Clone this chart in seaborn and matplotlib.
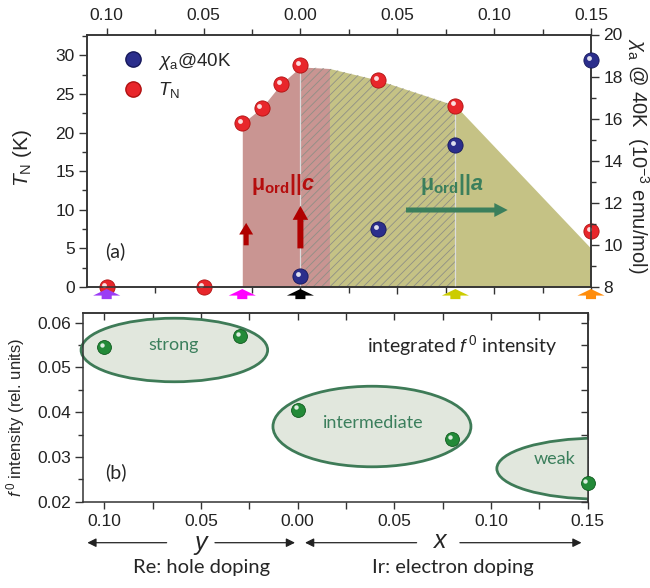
import numpy as np
import pandas as pd
import matplotlib
matplotlib.use("Agg")
import matplotlib.pyplot as plt
import matplotlib.transforms as mtrans
from matplotlib.patches import Ellipse, FancyArrow
from matplotlib.lines import Line2D
from matplotlib.ticker import MultipleLocator, FuncFormatter
import seaborn as sns

# doping axis: negative side = Re content y (hole), positive side = Ir content x (electron)
tn_dop = [-0.10, -0.05, -0.03, -0.02, -0.01, 0.00, 0.04, 0.08, 0.15]
tn_val = [0.0, 0.0, 21.2, 23.2, 26.3, 28.7, 26.8, 23.5, 7.2]

chi_dop = [0.00, 0.04, 0.08, 0.15]
chi_val = [8.5, 10.75, 14.75, 18.8]

# outline of the ordered region (c-axis part, then a-axis part)
phase_c_dop = [-0.03, -0.02, -0.01, 0.00, 0.015]
phase_c_tn = [21.2, 23.2, 26.3, 28.5, 28.3]
phase_a_dop = [0.015, 0.04, 0.08, 0.15]
phase_a_tn = [28.3, 26.8, 23.5, 5.0]

# samples (coloured arrows under panel a)
sample_dop = [-0.10, -0.03, 0.00, 0.08, 0.15]
sample_col = ["#9b3cf5", "#ff00ff", "#000000", "#cccc00", "#ff8c0a"]

f0_dop = [-0.10, -0.03, 0.00, 0.08, 0.15]
f0_val = [0.0546, 0.0570, 0.0406, 0.0340, 0.0241]

sns.set_style("ticks")
plt.rcParams["font.family"] = ["Liberation Sans", "DejaVu Sans"]
plt.rcParams["mathtext.fontset"] = "custom"
plt.rcParams["mathtext.rm"] = "Liberation Sans"
plt.rcParams["mathtext.it"] = "Liberation Sans:italic"
plt.rcParams["mathtext.bf"] = "Liberation Sans:bold"
plt.rcParams["mathtext.bfit"] = "Liberation Sans:italic:bold"
plt.rcParams["hatch.linewidth"] = 0.6
plt.rcParams["axes.edgecolor"] = "#333333"
plt.rcParams["axes.linewidth"] = 1.1
plt.rcParams["xtick.color"] = "#333333"
plt.rcParams["ytick.color"] = "#333333"
plt.rcParams["xtick.labelcolor"] = "#222222"
plt.rcParams["ytick.labelcolor"] = "#222222"

calib = ["Lato", "DejaVu Sans"]
RED, BLUE, GREEN = "#e8262b", "#2b2e8c", "#238a38"
CRED, CGREEN = "#b50d0d", "#3b7f5c"

fig = plt.figure(figsize=(6.5, 5.88), dpi=100)
ax1 = fig.add_axes([87.3 / 650, 1 - 287 / 588, 503.7 / 650, 252.5 / 588])
ax2 = fig.add_axes([83.3 / 650, 1 - 501.7 / 588, 504.4 / 650, 188.4 / 588])

absfmt = FuncFormatter(lambda v, p: f"{abs(v):.2f}")


def spheres(ax, x, y, color, dark, s):
    sns.scatterplot(x=x, y=y, ax=ax, color=color, s=s, edgecolor=dark, linewidth=0.6,
                    clip_on=False, zorder=6, legend=False)
    tr = mtrans.offset_copy(ax.transData, fig=fig, x=-2.2, y=2.2, units="dots")
    ax.scatter(x, y, s=s * 0.1, color="white", alpha=0.85, lw=0, transform=tr,
               clip_on=False, zorder=7)


# ---------- (a) phase diagram ----------
ax1.set_xlim(-0.110, 0.15)
ax1.set_ylim(0, 32.7)
ax1.fill_between(phase_c_dop, 0, phase_c_tn, color="#c99592", lw=0, zorder=1)
ax1.fill_between(phase_a_dop, 0, phase_a_tn, color="#c5c285", lw=0, zorder=1)
h_dop = [0.0, 0.015, 0.04, 0.08]
h_tn = [28.5, 28.3, 26.8, 23.5]
ax1.fill_between(h_dop, 0, h_tn, facecolor="none", edgecolor="#8f8f86", hatch="////", lw=0, zorder=2)
ax1.plot([0, 0], [0, 28.5], color="#dcdcdc", lw=0.9, zorder=3)
ax1.plot([0.08, 0.08], [0, 23.5], color="#dcdcdc", lw=0.9, zorder=3)

spheres(ax1, tn_dop, tn_val, RED, "#b01010", 120)

# moment direction arrows
ax1.add_patch(FancyArrow(-0.028, 5.4, 0, 2.9, width=0.0026, head_width=0.0072, head_length=1.5,
                         length_includes_head=True, color="#b00000", lw=0, zorder=4))
ax1.add_patch(FancyArrow(0.0, 5.0, 0, 5.5, width=0.0031, head_width=0.0080, head_length=1.8,
                         length_includes_head=True, color="#b00000", lw=0, zorder=4))
ax1.add_patch(FancyArrow(0.0545, 9.97, 0.0525, 0, width=0.65, head_width=1.8, head_length=0.0069,
                         length_includes_head=True, color=CGREEN, lw=0, zorder=4))
ax1.text(-0.009, 13.3, r"$\mathbf{\mu_{ord}||}\mathbfit{c}$", color=CRED, fontsize=15.5,
         ha="center", va="center", zorder=5)
ax1.text(0.078, 13.3, r"$\mathbf{\mu_{ord}||}\mathbfit{a}$", color=CGREEN, fontsize=15.5,
         ha="center", va="center", zorder=5)
ax1.text(-0.0955, 4.6, "(a)", fontsize=14, family=calib, ha="center", va="center")

# measured samples
for d, c in zip(sample_dop, sample_col):
    ax1.add_patch(FancyArrow(d, -0.048, 0, 0.040, width=0.0052, head_width=0.0140, head_length=0.026,
                             length_includes_head=True, color=c, lw=0, clip_on=False,
                             transform=mtrans.blended_transform_factory(ax1.transData, ax1.transAxes),
                             zorder=8))

ax1.xaxis.set_major_locator(MultipleLocator(0.05))
ax1.xaxis.set_minor_locator(MultipleLocator(0.025))
ax1.xaxis.set_major_formatter(absfmt)
ax1.tick_params(axis="x", which="both", top=True, bottom=True, labeltop=True, labelbottom=False,
                direction="out", labelsize=12.5, length=5, width=1)
ax1.tick_params(axis="x", which="minor", length=4)
ax1.yaxis.set_major_locator(MultipleLocator(5))
ax1.yaxis.set_minor_locator(MultipleLocator(2.5))
ax1.tick_params(axis="y", which="major", direction="out", labelsize=12.5, length=5.5, width=1)
ax1.tick_params(axis="y", which="minor", direction="out", length=3.3, width=1)
ax1.set_ylabel(r"$T_{\mathrm{N}}$ (K)", fontsize=15)
ax1.yaxis.set_label_coords(-0.105, 0.51)

ax1r = ax1.twinx()
ax1r.set_ylim(8, 20)
spheres(ax1r, chi_dop, chi_val, BLUE, "#15175a", 120)
ax1r.yaxis.set_major_locator(MultipleLocator(2))
ax1r.yaxis.set_minor_locator(MultipleLocator(1))
ax1r.tick_params(axis="y", which="major", direction="out", labelsize=12.5, length=5.5, width=1)
ax1r.tick_params(axis="y", which="minor", direction="out", length=3.3, width=1)
ax1r.set_ylabel(r"$\chi_{\mathrm{a}}$ @ 40K  (10$^{-3}$ emu/mol)", fontsize=14.5,
                rotation=270, va="center")
ax1r.yaxis.set_label_coords(1.093, 0.52)

handles = [Line2D([], [], ls="", marker="o", ms=11, mfc=BLUE, mec="#15175a"),
           Line2D([], [], ls="", marker="o", ms=11, mfc=RED, mec="#b01010")]
ax1r.legend(handles, [r"$\chi_{\mathrm{a}}$@40K", r"$T_{\mathrm{N}}$"], loc="upper left",
            bbox_to_anchor=(0.073, 0.935), frameon=False, fontsize=13.5, borderpad=0,
            borderaxespad=0, handlelength=1.0, handletextpad=0.8, labelspacing=0.45)

# ---------- (b) f0 intensity ----------
ax2.set_xlim(-0.1109, 0.15)
ax2.set_ylim(0.02, 0.0621)
ell_kw = dict(facecolor="#e1e7dd", edgecolor="#3e7b57", lw=2, zorder=1)
ax2.add_patch(Ellipse((-0.0638, 0.0539), 0.0965, 0.0142, clip_on=False, **ell_kw))
ax2.add_patch(Ellipse((0.0384, 0.0368), 0.1024, 0.0180, **ell_kw))
ax2.add_patch(Ellipse((0.155, 0.0274), 0.104, 0.0136, **ell_kw))
ax2.text(-0.064, 0.0551, "strong", color=CGREEN, fontsize=13, family=calib, ha="center", va="center")
ax2.text(0.039, 0.0376, "intermediate", color=CGREEN, fontsize=13, family=calib, ha="center", va="center")
ax2.text(0.133, 0.0295, "weak", color=CGREEN, fontsize=13, family=calib, ha="center", va="center")
ax2.text(0.085, 0.0549, r"integrated $f^{\,0}$ intensity", fontsize=14, family=calib,
         ha="center", va="center")
ax2.text(-0.094, 0.0265, "(b)", fontsize=14, family=calib, ha="center", va="center")

spheres(ax2, f0_dop, f0_val, GREEN, "#0f5a1e", 100)

ax2.xaxis.set_major_locator(MultipleLocator(0.05))
ax2.xaxis.set_minor_locator(MultipleLocator(0.025))
ax2.xaxis.set_major_formatter(absfmt)
ax2.tick_params(axis="x", which="both", direction="out", labelsize=12.5, length=5, width=1)
ax2.yaxis.set_major_locator(MultipleLocator(0.01))
ax2.yaxis.set_minor_locator(MultipleLocator(0.005))
ax2.tick_params(axis="y", which="major", direction="out", labelsize=12.5, length=5.5, width=1)
ax2.tick_params(axis="y", which="minor", direction="out", length=3.3, width=1)
ax2.set_ylabel(r"$f^{\,0}$ intensity (rel. units)", fontsize=12)
ax2.yaxis.set_label_coords(-0.112, 0.45)

top2 = ax2.secondary_xaxis("top")
top2.xaxis.set_major_locator(MultipleLocator(0.025))
top2.tick_params(direction="in", length=5, width=1, labeltop=False)
right2 = ax2.secondary_yaxis("right")
right2.yaxis.set_major_locator(MultipleLocator(0.005))
right2.tick_params(direction="in", length=5, width=1, labelright=False)

# doping direction arrows and captions below panel b
xy_mix = ("data", "figure pixels")
arr_kw = dict(arrowstyle="-|>", color="#222222", lw=0.9, mutation_scale=13, shrinkA=0, shrinkB=0)
for tail, head in [(-0.0678, -0.1088), (-0.0428, -0.0014), (0.0615, 0.0038), (0.0839, 0.1468)]:
    ax2.annotate("", xy=(head, 45.3), xytext=(tail, 45.3), xycoords=xy_mix, textcoords=xy_mix,
                 arrowprops=arr_kw, annotation_clip=False)
ax2.annotate("y", xy=(-0.0504, 45.3), xycoords=xy_mix, fontsize=18, style="italic",
             ha="center", va="center", annotation_clip=False)
ax2.annotate("x", xy=(0.0736, 47), xycoords=xy_mix, fontsize=18, style="italic",
             ha="center", va="center", annotation_clip=False)
ax2.annotate("Re: hole doping", xy=(-0.0495, 21), xycoords=xy_mix, fontsize=14.5, family=calib,
             ha="center", va="center", annotation_clip=False)
ax2.annotate("Ir: electron doping", xy=(0.0803, 21), xycoords=xy_mix, fontsize=14.5, family=calib,
             ha="center", va="center", annotation_clip=False)

fig.savefig("out.png", dpi=100)
